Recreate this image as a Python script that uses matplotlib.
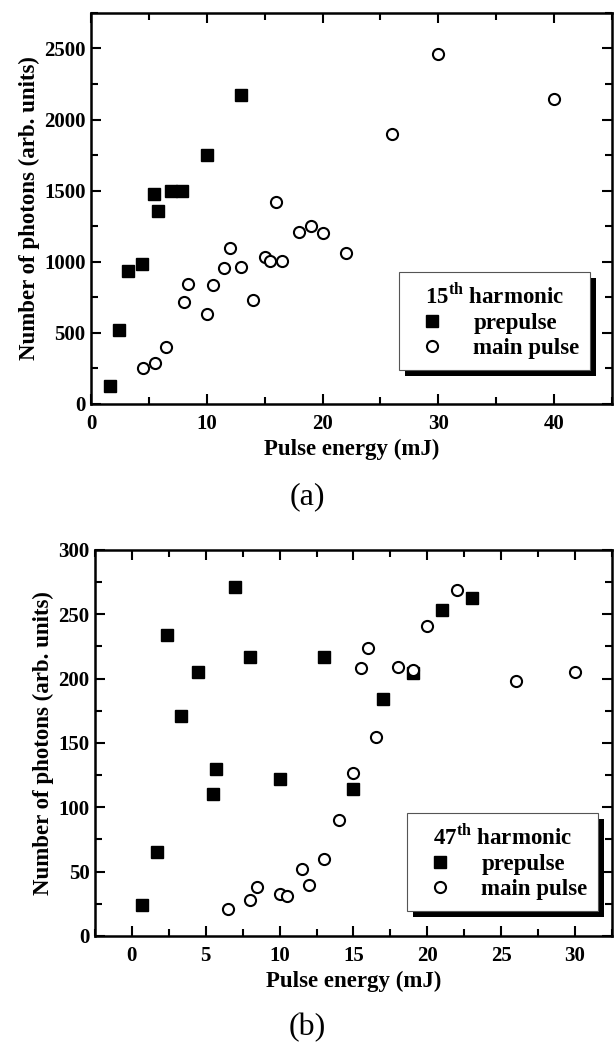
import matplotlib
matplotlib.use('Agg')
import matplotlib.pyplot as plt
from matplotlib.patches import Rectangle
from matplotlib.ticker import MultipleLocator

plt.rcParams['font.family'] = ['Liberation Serif', 'DejaVu Serif']
plt.rcParams['font.weight'] = 'bold'
plt.rcParams['mathtext.fontset'] = 'custom'
plt.rcParams['mathtext.bf'] = 'Liberation Serif:bold'
plt.rcParams['mathtext.rm'] = 'Liberation Serif:bold'

# 15th harmonic
pre15_e = [1.6, 2.4, 3.2, 4.4, 5.4, 5.8, 6.9, 7.9, 10.0, 13.0]
pre15_n = [125, 520, 935, 985, 1480, 1360, 1500, 1500, 1750, 2175]
main15_e = [4.5, 5.5, 6.5, 8.0, 8.4, 10.0, 10.5, 11.5, 12.0, 13.0, 14.0,
            15.0, 15.5, 16.0, 16.5, 18.0, 19.0, 20.0, 22.0, 26.0, 30.0, 40.0]
main15_n = [250, 285, 400, 720, 845, 630, 835, 955, 1095, 960, 730,
            1030, 1005, 1420, 1005, 1210, 1250, 1205, 1060, 1900, 2460, 2145]

# 47th harmonic
pre47_e = [0.7, 1.7, 2.4, 3.3, 4.5, 5.5, 5.7, 7.0, 8.0, 10.0, 13.0, 15.0,
           17.0, 19.0, 21.0, 23.0]
pre47_n = [24, 65, 234, 171, 205, 110, 130, 271, 217, 122, 217, 114,
           184, 204, 253, 263]
main47_e = [6.5, 8.0, 8.5, 10.0, 10.5, 11.5, 12.0, 13.0, 14.0, 15.0, 15.5,
            16.0, 16.5, 18.0, 19.0, 20.0, 22.0, 26.0, 30.0]
main47_n = [21, 28, 38, 33, 31, 52, 40, 60, 90, 127, 208,
            224, 155, 209, 207, 241, 269, 198, 205]


def style_axes(ax, xmaj, ymaj):
    ax.xaxis.set_major_locator(MultipleLocator(xmaj))
    ax.xaxis.set_minor_locator(MultipleLocator(xmaj / 2))
    ax.yaxis.set_major_locator(MultipleLocator(ymaj))
    ax.yaxis.set_minor_locator(MultipleLocator(ymaj / 2))
    ax.tick_params(which='both', direction='in', top=True, right=True,
                   width=1.5, labelsize=15)
    ax.tick_params(which='major', length=7)
    ax.tick_params(which='minor', length=5)
    ax.tick_params(axis='x', which='both', pad=7)
    ax.tick_params(axis='y', which='both', pad=4)
    for s in ax.spines.values():
        s.set_linewidth(1.8)
    ax.set_xlabel('Pulse energy (mJ)', fontsize=16.5, fontweight='bold',
                  labelpad=4)
    ax.set_ylabel('Number of photons (arb. units)', fontsize=16.5,
                  fontweight='bold', labelpad=3)


def add_legend(ax, title, x0, y0):
    leg = ax.legend(title=title, loc='upper left', bbox_to_anchor=(x0, y0),
                    borderaxespad=0, fancybox=False, framealpha=1,
                    edgecolor='#555555', fontsize=16.5, title_fontsize=16.5,
                    alignment='center', handletextpad=0.8, labelspacing=0.2,
                    borderpad=0.45, handlelength=2.0)
    leg.get_frame().set_linewidth(0.8)
    leg.set_zorder(6)
    ax.figure.canvas.draw()
    bb = leg.get_window_extent()
    sh = Rectangle((bb.x0 + 6, bb.y0 - 6), bb.width, bb.height,
                   transform=None, facecolor='black', edgecolor='none',
                   zorder=5.5, clip_on=False)
    ax.add_artist(sh)
    return leg


fig = plt.figure(figsize=(6.14, 10.43), dpi=100)

ax1 = fig.add_axes([0.1482, 0.6127, 0.8485, 0.3749])
ax1.plot(pre15_e, pre15_n, 's', color='black', markersize=9, label='prepulse')
ax1.plot(main15_e, main15_n, 'o', markerfacecolor='white',
         markeredgecolor='black', markeredgewidth=1.5, markersize=8,
         label='main pulse')
ax1.set_xlim(0, 45)
ax1.set_ylim(0, 2750)
style_axes(ax1, 10, 500)
add_legend(ax1, '15$^{\\mathbf{th}}$ harmonic', 0.591, 0.338)
fig.text(0.5, 1 - 497 / 1043, '(a)', ha='center', va='center',
         fontsize=23, fontweight='normal')

ax2 = fig.add_axes([0.1547, 0.1026, 0.842, 0.3701])
ax2.plot(pre47_e, pre47_n, 's', color='black', markersize=9, label='prepulse')
ax2.plot(main47_e, main47_n, 'o', markerfacecolor='white',
         markeredgecolor='black', markeredgewidth=1.5, markersize=8,
         label='main pulse')
ax2.set_xlim(-2.5, 32.5)
ax2.set_ylim(0, 300)
style_axes(ax2, 5, 50)
add_legend(ax2, '47$^{\\mathbf{th}}$ harmonic', 0.603, 0.319)
fig.text(0.5, 1 - 1028 / 1043, '(b)', ha='center', va='center',
         fontsize=23, fontweight='normal')

fig.savefig('out.png', dpi=100)
